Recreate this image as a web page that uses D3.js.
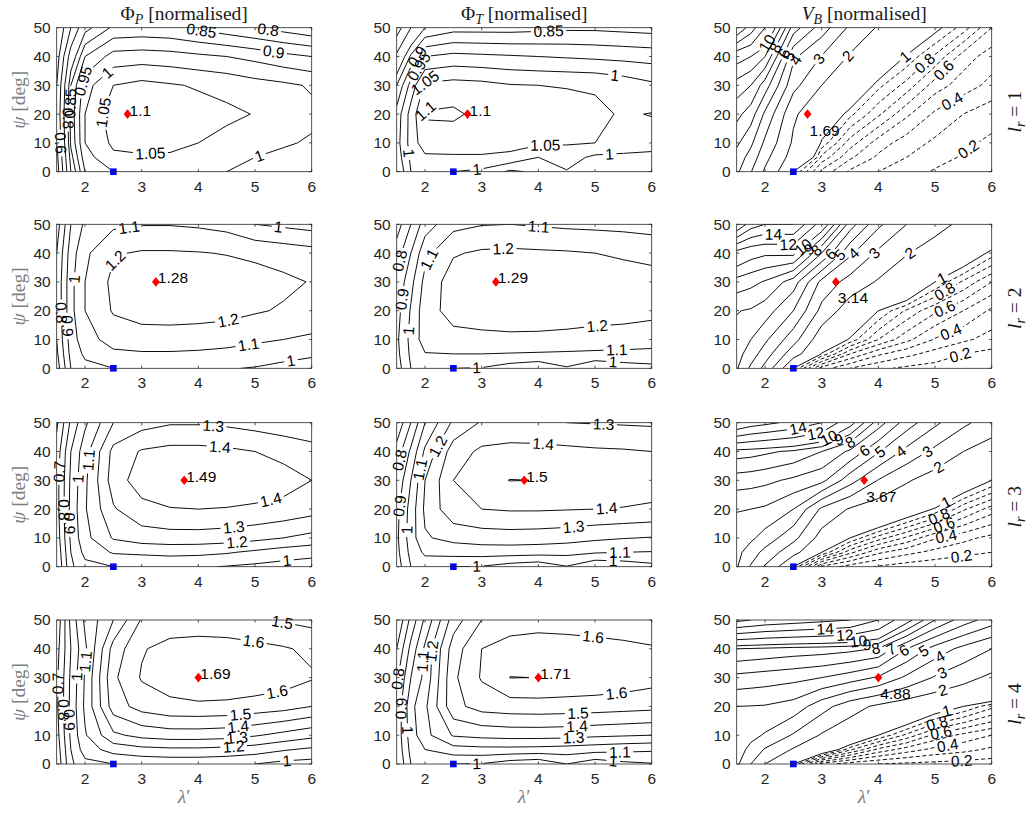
<!DOCTYPE html>
<html><head><meta charset="utf-8">
<script src="https://cdn.jsdelivr.net/npm/d3@7"></script>
<style>body{margin:0;background:#fff}</style>
</head><body><svg id="c" width="1031" height="813"></svg>
<script>
// ---------- grid / axes data ----------
const xGrid = [1.5,1.75,2,2.5,3,3.5,4,4.5,5,5.5,6];
const yGrid = [0,5,10,20,30,40,50];
const xTicks = [2,3,4,5,6];
const yTicks = [0,10,20,30,40,50];
const lrValues = [1,2,3,4];
const optX = [2.75,3.25,3.75,4];
const optY = [20,30,30,30];
const optVals = [[1.1,1.1,1.69],[1.28,1.29,3.14],[1.49,1.5,3.67],[1.69,1.71,4.88]];
const baseX = 2.5, baseY = 0;
const phiLevelsRow1 = [0.5,0.6,0.7,0.8,0.85,0.9,0.95,1,1.05,1.1];
const phiLevels = [0.5,0.6,0.7,0.8,0.9,1,1.1,1.2,1.3,1.4,1.5,1.6,1.7];
const vLevels = [0.1,0.2,0.3,0.4,0.5,0.6,0.7,0.8,0.9,1,2,3,4,5,6,7,8,9,10,12,14,16,18,20];

// rows: psi = 0,5,10,20,30,40,50 ; columns: lambda = xGrid
const phiP_lr1 = [
 [0.45,0.80,0.95,1.00,1.01,1.01,1.005,1.00,0.99,0.98,0.97],
 [0.47,0.83,0.98,1.04,1.045,1.045,1.04,1.02,1.00,0.99,0.98],
 [0.50,0.86,1.00,1.06,1.065,1.06,1.05,1.035,1.02,1.005,0.995],
 [0.52,0.87,1.00,1.08,1.09,1.08,1.07,1.06,1.048,1.03,1.01],
 [0.50,0.85,0.98,1.05,1.065,1.055,1.045,1.035,1.02,1.01,0.995],
 [0.45,0.75,0.90,0.97,0.975,0.97,0.96,0.95,0.935,0.915,0.90],
 [0.40,0.60,0.78,0.86,0.865,0.86,0.84,0.82,0.80,0.78,0.76]];
const phiT_lr1 = [
 [0.90,1.00,1.01,1.00,0.989,0.94,0.96,0.997,0.97,0.975,0.97],
 [0.92,1.01,1.04,1.045,1.045,1.04,1.00,1.02,0.99,0.985,0.98],
 [0.93,1.02,1.08,1.07,1.07,1.065,1.06,1.055,1.05,1.04,1.03],
 [0.92,1.02,1.105,1.11,1.085,1.075,1.07,1.065,1.06,1.045,1.052],
 [0.85,0.97,1.06,1.07,1.065,1.053,1.05,1.048,1.045,1.03,1.01],
 [0.72,0.86,0.95,0.965,0.96,0.955,0.95,0.945,0.94,0.935,0.93],
 [0.55,0.70,0.80,0.83,0.83,0.83,0.835,0.84,0.84,0.835,0.83]];
const vB_lr1 = [
 [5.2,4.05,2.85,1.0,0.57,0.38,0.30,0.24,0.19,0.16,0.13],
 [5.6,4.6,3.3,1.55,0.77,0.52,0.38,0.30,0.235,0.19,0.155],
 [6.2,5.2,3.8,1.85,0.97,0.65,0.45,0.35,0.28,0.22,0.18],
 [7.3,6.5,4.8,2.15,1.25,0.93,0.72,0.52,0.38,0.30,0.24],
 [8.6,8.0,6.5,3.3,2.0,1.3,0.93,0.76,0.55,0.45,0.37],
 [10.5,10.0,9.0,4.2,2.95,1.9,1.3,0.98,0.78,0.55,0.45],
 [18,15,12,6.5,4.5,2.8,1.9,1.35,1.05,0.85,0.6]];
const phiP_lr2 = [
 [0.65,0.90,0.97,1.00,1.015,1.02,1.015,1.005,0.995,0.98,0.97],
 [0.68,0.93,1.02,1.08,1.09,1.09,1.085,1.075,1.05,1.025,1.01],
 [0.70,0.95,1.06,1.14,1.15,1.15,1.145,1.135,1.12,1.10,1.085],
 [0.72,0.97,1.10,1.21,1.245,1.25,1.245,1.235,1.21,1.19,1.16],
 [0.72,0.97,1.10,1.225,1.27,1.28,1.275,1.26,1.24,1.22,1.195],
 [0.70,0.95,1.08,1.19,1.21,1.21,1.205,1.195,1.18,1.16,1.14],
 [0.65,0.90,1.02,1.08,1.095,1.095,1.085,1.065,1.00,0.98,0.96]];
const phiT_lr2 = [
 [0.85,1.00,1.03,1.00,0.995,0.95,0.92,0.99,0.91,0.95,0.97],
 [0.87,1.02,1.095,1.10,1.10,1.095,1.09,1.085,1.08,1.075,1.07],
 [0.88,1.03,1.15,1.17,1.175,1.18,1.18,1.175,1.165,1.16,1.15],
 [0.86,1.01,1.16,1.235,1.25,1.255,1.25,1.245,1.24,1.235,1.225],
 [0.82,0.97,1.13,1.25,1.285,1.29,1.28,1.27,1.26,1.25,1.24],
 [0.75,0.90,1.07,1.19,1.215,1.22,1.215,1.21,1.20,1.185,1.17],
 [0.65,0.80,0.95,1.07,1.095,1.10,1.09,1.08,1.075,1.07,1.06]];
const vB_lr2 = [
 [6.1,4.8,3.7,1.0,0.45,0.3,0.22,0.18,0.16,0.14,0.12],
 [6.4,5.5,4.5,2.4,0.98,0.6,0.42,0.33,0.26,0.2,0.17],
 [6.7,6.0,5.2,3.4,1.35,0.97,0.7,0.53,0.39,0.32,0.26],
 [7.05,6.9,6.5,5.0,2.7,1.45,1.0,0.78,0.62,0.5,0.38],
 [8.6,8.3,7.9,6.5,3.7,2.6,1.9,1.4,1.0,0.78,0.6],
 [11.2,10.5,10.2,10.3,7.0,4.2,2.8,2.05,1.6,1.2,0.95],
 [20,17,16,16,11,6.5,4.2,3.0,2.3,1.8,1.4]];
const phiP_lr3 = [
 [0.60,0.88,0.97,1.00,1.01,1.015,1.01,0.995,0.98,0.965,0.955],
 [0.62,0.90,1.03,1.11,1.12,1.13,1.125,1.11,1.08,1.05,1.03],
 [0.64,0.92,1.07,1.21,1.25,1.26,1.26,1.25,1.23,1.20,1.17],
 [0.66,0.93,1.09,1.29,1.37,1.395,1.40,1.395,1.385,1.37,1.34],
 [0.66,0.92,1.08,1.35,1.45,1.48,1.49,1.48,1.46,1.44,1.40],
 [0.64,0.90,1.06,1.33,1.41,1.43,1.43,1.42,1.40,1.37,1.34],
 [0.58,0.82,0.98,1.20,1.26,1.29,1.29,1.28,1.26,1.24,1.22]];
const phiT_lr3 = [
 [0.85,1.00,1.04,1.00,0.995,0.955,0.93,0.995,0.91,0.935,0.97],
 [0.87,1.03,1.12,1.14,1.145,1.145,1.14,1.13,1.11,1.10,1.095],
 [0.88,1.05,1.19,1.23,1.25,1.255,1.25,1.24,1.22,1.205,1.195],
 [0.87,1.04,1.22,1.37,1.40,1.41,1.41,1.405,1.40,1.395,1.385],
 [0.82,1.00,1.20,1.40,1.47,1.502,1.499,1.49,1.48,1.465,1.45],
 [0.74,0.92,1.12,1.35,1.42,1.435,1.435,1.425,1.415,1.41,1.40],
 [0.62,0.80,1.00,1.22,1.31,1.32,1.31,1.30,1.295,1.29,1.285]];
const vB_lr3 = [
 [5.1,3.9,2.9,1.0,0.38,0.25,0.19,0.15,0.13,0.11,0.10],
 [5.3,4.5,3.7,2.3,1.0,0.63,0.42,0.33,0.27,0.23,0.20],
 [5.6,5.2,4.6,3.3,1.6,1.0,0.75,0.58,0.41,0.33,0.27],
 [6.05,6.0,5.85,5.0,2.8,1.9,1.45,1.18,0.98,0.72,0.55],
 [7.5,7.4,7.25,6.8,6.3,4.4,2.95,2.1,1.55,1.22,1.0],
 [9.5,9.4,9.2,8.8,8.0,6.8,5.1,3.7,2.75,2.0,1.55],
 [18,17,16.5,15.5,14,10.5,7.5,5.5,4.2,3.2,2.5]];
const phiP_lr4 = [
 [0.62,0.88,0.97,1.00,1.02,1.03,1.03,1.02,1.0,0.97,0.96],
 [0.64,0.90,1.05,1.14,1.17,1.18,1.18,1.17,1.15,1.11,1.08],
 [0.66,0.92,1.09,1.28,1.33,1.35,1.35,1.34,1.31,1.27,1.23],
 [0.68,0.93,1.12,1.45,1.54,1.575,1.58,1.575,1.56,1.54,1.50],
 [0.68,0.92,1.11,1.48,1.61,1.65,1.69,1.685,1.67,1.65,1.61],
 [0.66,0.90,1.08,1.44,1.59,1.64,1.65,1.645,1.63,1.61,1.58],
 [0.62,0.93,1.12,1.30,1.51,1.53,1.535,1.53,1.51,1.49,1.47]];
const phiT_lr4 = [
 [0.80,1.00,1.03,1.00,0.995,0.946,0.922,1.0,0.934,0.976,0.993],
 [0.82,1.03,1.10,1.16,1.17,1.17,1.165,1.155,1.14,1.125,1.115],
 [0.83,1.05,1.17,1.31,1.33,1.34,1.34,1.335,1.32,1.31,1.30],
 [0.82,1.07,1.18,1.47,1.54,1.555,1.56,1.555,1.55,1.54,1.53],
 [0.78,1.00,1.13,1.48,1.61,1.702,1.699,1.69,1.68,1.665,1.64],
 [0.70,0.93,1.12,1.45,1.60,1.64,1.65,1.645,1.635,1.625,1.61],
 [0.60,0.83,1.02,1.35,1.50,1.55,1.56,1.555,1.55,1.54,1.53]];
const vB_lr4 = [
 [4.2,3.0,2.0,1.0,0.35,0.24,0.2,0.18,0.17,0.16,0.15],
 [4.5,3.7,2.9,1.9,1.25,0.82,0.57,0.45,0.37,0.33,0.28],
 [4.7,4.3,3.9,2.9,1.9,1.35,1.0,0.77,0.57,0.47,0.4],
 [5.0,4.97,4.93,4.6,3.4,2.4,1.8,1.4,1.15,1.0,0.83],
 [6.7,6.6,6.5,6.3,6.0,5.5,4.88,3.8,2.9,2.3,1.8],
 [9.0,8.9,8.8,8.6,8.5,8.3,7.9,6.0,4.6,3.7,3.0],
 [18.5,18,17.5,17,16.5,16.0,14,10.5,8,6.5,5.5]];

// contour label anchors [level, lambda, psi]
const labelSpots = [
 [ [[0.85,3.97,48],[0.8,4.97,48.6],[0.9,5.32,40.5],[1,2.3,36.5],[1,5.05,7],[0.95,1.91,31.8],[1.05,2.2,21.4],[1.05,3.15,7.5],[0.6,1.6,10],[0.8,1.65,18.5],[0.85,1.7,23.7]],
   [[0.85,4.18,48.6],[1,5.35,33],[1.05,4.12,11.6],[1,5.26,5.2],[1,2.91,1.7],[1,1.7,6.4],[1.1,2.0,22.6],[1.05,1.91,33.6],[0.95,1.85,37],[0.9,1.78,41]],
   [[1,4.47,40],[0.8,4.85,37],[0.6,5.15,35.3],[0.4,5.29,24.9],[0.2,5.56,8.7],[2,3.44,40.5],[3,2.94,39.4],[4,2.5,39.4],[5,2.38,40.5],[6,2.3,41.5],[8,2.18,43],[10,2.05,44.5]] ],
 [ [[1.1,2.79,47.5],[1,5.41,48.3],[1.2,2.56,36.6],[1,1.91,30.8],[0.8,1.62,19.3],[0.9,1.71,14.7],[1.2,4.53,16.4],[1.1,4.88,9],[1,5.62,4.4]],
   [[1.1,4.0,47.8],[1.2,3.38,41.7],[1.1,2.09,37.7],[0.8,1.65,34.8],[0.9,1.62,23.9],[1,1.7,13],[1.2,5.03,17.6],[1.1,5.38,9],[1,5.32,2.6],[1,2.91,0.9]],
   [[14,2.15,47.5],[12,2.41,44],[10,2.62,43.4],[9,2.75,42],[8,2.88,41.5],[6,3.12,40.5],[5,3.32,39.4],[4,3.56,40],[3,3.9,40.6],[2,4.56,40],[1,5.06,33.7],[0.8,5.15,27.4],[0.6,5.15,21.6],[0.4,5.26,13.6],[0.2,5.44,4.9]] ],
 [ [[1.3,4.26,48],[1.4,4.38,41.7],[1.4,5.26,24.9],[1.3,4.62,14.5],[1.2,4.68,8.7],[1,5.56,2.9],[1.1,2.06,37],[0.7,1.56,33],[0.8,1.59,19.7],[0.9,1.74,15],[1,1.87,30.5]],
   [[1.3,5.15,48.6],[1.4,4.09,44],[1.4,5.2,21.4],[1.3,4.62,14.5],[1.1,2.09,33],[1.2,2.35,40.5],[0.8,1.65,30],[0.9,1.65,20.8],[1,1.74,12.7],[1.1,5.44,5.2],[1,5.32,1.7],[1,2.91,0.6]],
   [[14,2.59,47.5],[12,2.91,44.6],[10,3.18,42.8],[9,3.35,42],[8,3.56,41.7],[6,3.79,39.4],[5,4.03,39.9],[4,4.38,40.5],[3,4.85,40.5],[2,5.06,34.7],[1,5.18,23],[0.8,5.06,17.9],[0.6,5.15,15],[0.4,5.2,10.4],[0.2,5.47,2.9]] ],
 [ [[1.5,4.85,47.7],[1.6,4.97,41.9],[1.6,5.38,26.3],[1.5,4.74,18.2],[1.4,4.7,13.5],[1.3,4.68,10],[1.2,4.62,6.6],[1,5.56,2.5],[1.1,2.03,35.5],[0.7,1.56,28],[0.8,1.62,18.8],[0.9,1.74,15.3],[1,1.85,30.3]],
   [[1.6,4.97,44.8],[1.6,5.38,24.5],[1.5,4.7,17.6],[1.4,4.68,13.5],[1.3,4.62,10],[1.1,5.44,3.7],[1,5.32,0.5],[1,2.91,0.2],[1.1,2.09,35.5],[1.2,2.32,39],[0.8,1.65,29.2],[0.9,1.68,19.3],[1,1.74,11.8]],
   [[14,3.06,47.1],[12,3.41,44.2],[10,3.65,42.5],[9,3.8,42],[8,3.95,41.5],[7,4.2,40.7],[6,4.45,39.5],[5,4.79,39.6],[4,5.06,38.4],[3,5.09,33.2],[2,5.12,26.9],[1,5.21,18.2],[0.8,5.03,14.7],[0.6,5.09,12.4],[0.4,5.21,7.75],[0.2,5.47,1.4]] ]
];

const grids = [
 [phiP_lr1, phiT_lr1, vB_lr1],
 [phiP_lr2, phiT_lr2, vB_lr2],
 [phiP_lr3, phiT_lr3, vB_lr3],
 [phiP_lr4, phiT_lr4, vB_lr4]];

// ---------- layout ----------
const colLeft = [56.7, 396.7, 736.7], PW = 255, PH = 144;
const rowTop = [27.7, 224.3, 422.7, 620];
const AX = '#262626';
const SANS = '"Liberation Sans", Arial, Helvetica, sans-serif';
const SERIF = '"Liberation Serif", "Times New Roman", serif';
const FS = 15.5;      // tick labels
const LFS = 15.5;     // contour labels / annotations
const TFS = 19.5;     // titles and axis labels
const svg = d3.select('#c');
svg.append('rect').attr('width',1031).attr('height',813).attr('fill','#fff');
const defs = svg.append('defs');

const ixS = d3.scaleLinear().domain(d3.range(xGrid.length)).range(xGrid).clamp(true);
const iyS = d3.scaleLinear().domain(d3.range(yGrid.length)).range(yGrid).clamp(true);
const mctx = document.createElement('canvas').getContext('2d');
mctx.font = LFS + 'px ' + SANS;

function extractLines(grid, level){
  const nx = xGrid.length, ny = yGrid.length;
  const vals = [].concat(...grid);
  const c = d3.contours().size([nx, ny]).thresholds([level])(vals)[0];
  const out = [];
  const isB = p => p[0] <= 0 || p[0] >= nx || p[1] <= 0 || p[1] >= ny;
  if (!c) return out;
  for (const poly of c.coordinates) for (const ring0 of poly) {
    const ring = ring0.slice();
    const f = ring[0], l = ring[ring.length-1];
    if (ring.length > 1 && f[0] === l[0] && f[1] === l[1]) ring.pop();
    const n = ring.length;
    const s = ring.findIndex(isB);
    if (s < 0) { out.push(ring.concat([ring[0]])); continue; }
    let cur = [];
    for (let k = 1; k <= n; k++) {
      const p = ring[(s + k) % n];
      if (isB(p)) { if (cur.length > 1) out.push(cur); cur = []; }
      else cur.push(p);
    }
    if (cur.length > 1) out.push(cur);
  }
  return out.map(L => L.map(p => [ixS(p[0] - 0.5), iyS(p[1] - 0.5)]));
}

function cumLen(L){ const c=[0]; for(let k=1;k<L.length;k++) c.push(c[k-1]+Math.hypot(L[k][0]-L[k-1][0],L[k][1]-L[k-1][1])); return c; }
function pointAt(L, cum, s){
  if (s <= 0) return L[0].slice();
  const tot = cum[cum.length-1];
  if (s >= tot) return L[L.length-1].slice();
  let k = 1; while (cum[k] < s) k++;
  const t = (s - cum[k-1]) / ((cum[k]-cum[k-1]) || 1);
  return [L[k-1][0] + t*(L[k][0]-L[k-1][0]), L[k-1][1] + t*(L[k][1]-L[k-1][1])];
}
function splitLine(L, cum, cuts){
  const tot = cum[cum.length-1];
  cuts.sort((a,b)=>a[0]-b[0]);
  const keep = []; let cur = 0;
  for (const [a,b] of cuts) { if (a > cur) keep.push([cur,a]); cur = Math.max(cur,b); }
  if (cur < tot) keep.push([cur,tot]);
  return keep.map(([a,b]) => {
    const pts = [pointAt(L,cum,a)];
    for (let k=0;k<L.length;k++) if (cum[k] > a && cum[k] < b) pts.push(L[k]);
    pts.push(pointAt(L,cum,b));
    return pts;
  });
}
const fmt = v => String(v);

for (let r = 0; r < 4; r++) for (let c = 0; c < 3; c++) {
  const x0 = colLeft[c], y0 = rowTop[r];
  const xS = d3.scaleLinear().domain([1.5, 6]).range([x0, x0 + PW]);
  const yS = d3.scaleLinear().domain([0, 50]).range([y0 + PH, y0]);
  const g = svg.append('g');
  const cid = 'clip' + r + c;
  defs.append('clipPath').attr('id', cid).append('rect')
    .attr('x', x0).attr('y', y0).attr('width', PW).attr('height', PH);
  const levels = c === 2 ? vLevels : (r === 0 ? phiLevelsRow1 : phiLevels);
  const grid = grids[r][c];
  const items = [];
  levels.forEach(lv => {
    extractLines(grid, lv).forEach(L => {
      const P = L.map(p => [xS(p[0]), yS(p[1])]);
      if (P.length < 2) return;
      items.push({lv, P, cum: cumLen(P), cuts: []});
    });
  });
  const labels = [];
  labelSpots[r][c].forEach(([lv, lx, ly]) => {
    const tx = xS(lx), ty = yS(ly);
    let best = {d: Infinity};
    items.forEach(it => {
      if (Math.abs(it.lv - lv) > 1e-9) return;
      const P = it.P;
      for (let k = 0; k < P.length-1; k++) {
        const a = P[k], b = P[k+1], dx = b[0]-a[0], dy = b[1]-a[1], len2 = dx*dx+dy*dy;
        let t = len2 > 0 ? ((tx-a[0])*dx + (ty-a[1])*dy)/len2 : 0;
        t = Math.max(0, Math.min(1, t));
        const px = a[0]+t*dx, py = a[1]+t*dy, d = Math.hypot(px-tx, py-ty);
        if (d < best.d) best = {d, it, s: it.cum[k] + t*Math.sqrt(len2)};
      }
    });
    if (!best.it || best.d > 30) return;
    const txt = fmt(lv);
    const w = mctx.measureText(txt).width;
    const it = best.it, tot = it.cum[it.cum.length-1];
    let s = best.s;
    const half = w/2 + 2.5;
    if (tot > 2*half + 2) s = Math.max(half, Math.min(tot - half, s));
    const p = pointAt(it.P, it.cum, s);
    const p1 = pointAt(it.P, it.cum, s - 6), p2 = pointAt(it.P, it.cum, s + 6);
    let ang = Math.atan2(p2[1]-p1[1], p2[0]-p1[0]) * 180/Math.PI;
    if (ang > 90) ang -= 180; if (ang <= -90) ang += 180;
    it.cuts.push([s - half, s + half]);
    labels.push({txt, x: p[0], y: p[1], ang});
  });
  const line = d3.line();
  const cg = g.append('g').attr('clip-path', 'url(#' + cid + ')');
  items.forEach(it => {
    const dashed = c === 2 && it.lv < 1;
    splitLine(it.P, it.cum, it.cuts).forEach(seg => {
      cg.append('path').attr('d', line(seg)).attr('fill', 'none')
        .attr('stroke', '#000').attr('stroke-width', 0.95)
        .attr('stroke-dasharray', dashed ? '4,2.6' : null);
    });
  });
  labels.forEach(l => {
    g.append('text').attr('transform', `translate(${l.x},${l.y}) rotate(${l.ang})`)
      .attr('text-anchor', 'middle').attr('dy', '0.35em')
      .attr('font-family', SANS).attr('font-size', LFS).attr('fill', '#000').text(l.txt);
  });
  const mx = xS(optX[r]), my = yS(optY[r]);
  g.append('path').attr('d', `M${mx},${my-4.8}L${mx+3.9},${my}L${mx},${my+4.8}L${mx-3.9},${my}Z`).attr('fill', '#ff0000');
  const bx = xS(baseX), by = yS(baseY);
  g.append('rect').attr('x', bx-3.3).attr('y', by-3.3).attr('width', 6.6).attr('height', 6.6).attr('fill', '#0000ff');
  if (c < 2) {
    g.append('text').attr('x', mx + 2).attr('y', my + 1.5).attr('font-family', SANS).attr('font-size', LFS).attr('fill', '#000').text(fmt(optVals[r][c]));
  } else {
    g.append('text').attr('x', mx + 2).attr('y', my + 21.5).attr('font-family', SANS).attr('font-size', LFS).attr('fill', '#000').text(fmt(optVals[r][c]));
  }
  g.append('rect').attr('x', x0).attr('y', y0).attr('width', PW).attr('height', PH)
    .attr('fill', 'none').attr('stroke', AX).attr('stroke-width', 0.8);
  const TL = 2.6;
  xTicks.forEach(t => {
    const X = xS(t);
    g.append('line').attr('x1', X).attr('x2', X).attr('y1', y0+PH).attr('y2', y0+PH-TL).attr('stroke', AX).attr('stroke-width', 0.8);
    g.append('line').attr('x1', X).attr('x2', X).attr('y1', y0).attr('y2', y0+TL).attr('stroke', AX).attr('stroke-width', 0.8);
    g.append('text').attr('x', X).attr('y', y0+PH+20).attr('text-anchor', 'middle')
      .attr('font-family', SANS).attr('font-size', FS).attr('fill', AX).text(t);
  });
  yTicks.forEach(t => {
    const Y = yS(t);
    g.append('line').attr('x1', x0).attr('x2', x0+TL).attr('y1', Y).attr('y2', Y).attr('stroke', AX).attr('stroke-width', 0.8);
    g.append('line').attr('x1', x0+PW).attr('x2', x0+PW-TL).attr('y1', Y).attr('y2', Y).attr('stroke', AX).attr('stroke-width', 0.8);
    g.append('text').attr('x', x0-6).attr('y', Y).attr('dy', '0.35em').attr('text-anchor', 'end')
      .attr('font-family', SANS).attr('font-size', FS).attr('fill', AX).text(t);
  });
  if (c === 0) {
    const t = g.append('text').attr('transform', `translate(25,${y0+PH/2}) rotate(-90)`)
      .attr('text-anchor', 'middle').attr('font-family', SERIF).attr('font-size', TFS).attr('fill', '#7f7f7f');
    t.append('tspan').attr('font-style', 'italic').text('ψ');
    t.append('tspan').text(' [deg]');
  }
  if (c === 2) {
    const t = g.append('text').attr('transform', `translate(1021,${y0+PH/2+12}) rotate(-90)`)
      .attr('text-anchor', 'middle').attr('font-family', SERIF).attr('font-size', TFS).attr('fill', '#1a1a1a');
    t.append('tspan').attr('font-style', 'italic').text('l');
    t.append('tspan').attr('font-style', 'italic').attr('font-size', 14).attr('dy', 4).text('r');
    t.append('tspan').attr('dy', -4).text(' = ' + lrValues[r]);
  }
  if (r === 3) {
    const t = g.append('text').attr('x', x0 + PW/2).attr('y', 803).attr('text-anchor', 'middle')
      .attr('font-family', SERIF).attr('font-size', TFS).attr('fill', '#7f7f7f');
    t.append('tspan').attr('font-style', 'italic').text('λ');
    t.append('tspan').text('′');
  }
  if (r === 0) {
    const t = g.append('text').attr('x', x0 + PW/2).attr('y', 20).attr('text-anchor', 'middle')
      .attr('font-family', SERIF).attr('font-size', TFS).attr('fill', '#1a1a1a');
    if (c === 0) { t.append('tspan').text('Φ'); t.append('tspan').attr('font-style','italic').attr('font-size',14).attr('dy',4).text('P'); }
    if (c === 1) { t.append('tspan').text('Φ'); t.append('tspan').attr('font-style','italic').attr('font-size',14).attr('dy',4).text('T'); }
    if (c === 2) { t.append('tspan').attr('font-style','italic').text('V'); t.append('tspan').attr('font-style','italic').attr('font-size',14).attr('dy',4).text('B'); }
    t.append('tspan').attr('dy', -4).text(' [normalised]');
  }
}
</script>
</body></html>
